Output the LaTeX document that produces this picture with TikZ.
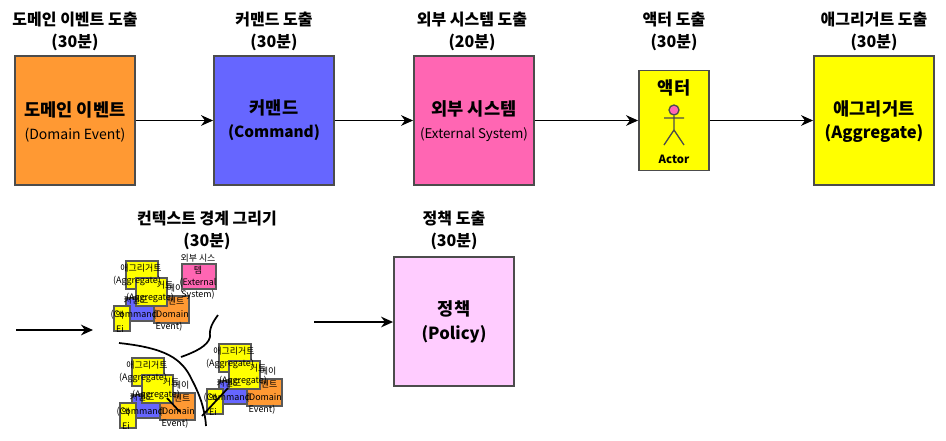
\documentclass[tikz,border=0pt]{standalone}
\usepackage{fontspec}
\setmainfont{Noto Sans CJK KR}
\usetikzlibrary{arrows.meta}
\definecolor{ev}{HTML}{FF9933}
\definecolor{cm}{HTML}{6666FF}
\definecolor{ex}{HTML}{FF66B3}
\definecolor{po}{HTML}{FFCCFF}
\definecolor{yl}{HTML}{FFFF00}
\tikzset{
 x=0.75pt,y=-0.75pt,
 box/.style={draw=black!70,line width=1.4pt,minimum width=#1*0.75pt,inner sep=0pt,align=center},
 title/.style={font=\bfseries\fontsize{12}{16.5}\selectfont,align=center,text=black},
 big/.style={font=\bfseries\fontsize{13.2}{18}\selectfont,align=center},
 biglat/.style={font=\bfseries\fontsize{11.5}{15}\selectfont,align=center},
 sub/.style={font=\fontsize{10.5}{12}\selectfont,align=center},
 flow/.style={draw=black,line width=1.3pt,-{Stealth[length=9pt,width=8pt]}},
 mini/.style={draw=black!65,line width=1.6pt,inner sep=0pt},
 minitext/.style={font=\fontsize{6.7}{8}\selectfont,align=center,inner sep=0pt},
 bound/.style={draw=black,line width=1.3pt}
}
\newcommand{\minirect}[6]{% name,x,y,w,h,colour
 \node[mini,fill=#6,minimum width=#4*0.75pt,minimum height=#5*0.75pt,anchor=north west] (#1) at (#2,#3) {};}
\newcommand{\cluster}[3]{%
 \begin{scope}[shift={(#2,#3)}]
 \minirect{#1c}{125}{297}{28}{23}{cm}
 \minirect{#1y}{113}{305}{16}{25}{yl}
 \minirect{#1o}{153}{295}{35}{27}{ev}
 \minirect{#1a}{125}{260}{32}{28}{yl}
 \minirect{#1b}{135}{277}{31}{28}{yl}
 \node[minitext] (#1at) at (141,268) {애그리거트};
 \node[minitext] (#1as) at (137,281) {(Aggregate)};
 \node[minitext] (#1bs) at (150,298) {(Aggregate)};
 \node[minitext] (#1bk) at (165,285) {거트};
 \node[minitext] (#1ct) at (136,300) {커맨드};
 \node[minitext] (#1cs) at (134,315) {(Command};
 \node[minitext] (#1ot) at (175,288) {메이};
 \node[minitext] (#1ok) at (176,301) {벤트};
 \node[minitext] (#1os) at (171,315) {(Domain};
 \node[minitext] (#1oe) at (169,327) {Event)};
 \node[minitext] (#1yt) at (120,315) {액};
 \node[minitext] (#1ys) at (120,329) {Ei};
 \end{scope}}
\begin{document}
\begin{tikzpicture}
\useasboundingbox (0,0) rectangle (946,440);
% top titles
\node[title] (t1) at (75,31) {도메인 이벤트 도출\\(30분)};
\node[title] (t2) at (274,31) {커맨드 도출\\(30분)};
\node[title] (t3) at (472,31) {외부 시스템 도출\\(20분)};
\node[title] (t4) at (674,31) {액터 도출\\(30분)};
\node[title] (t5) at (874,31) {애그리거트 도출\\(30분)};
\node[title] (t6) at (207,230) {컨텍스트 경계 그리기\\(30분)};
\node[title] (t7) at (454,230) {정책 도출\\(30분)};
% main boxes
\node[box=120,fill=ev,minimum height=129*0.75pt] (event) at (75,120.5) {};
\node[big] (eventk) at (75,110) {도메인 이벤트};
\node[sub] (evente) at (75,135) {(Domain Event)};
\node[box=120,fill=cm,minimum height=129*0.75pt] (command) at (274,120.5) {};
\node[big] (commandk) at (274,108) {커맨드};
\node[biglat] (commande) at (274,133) {(Command)};
\node[box=120,fill=ex,minimum height=129*0.75pt] (external) at (474,120.5) {};
\node[big] (externalk) at (474,109) {외부 시스템};
\node[sub,font=\fontsize{10}{12}\selectfont] (externale) at (474,135) {(External System)};
\node[box=70,fill=yl,minimum height=100*0.75pt] (actor) at (674,120.5) {};
\node[big] (actork) at (674,88) {액터};
\node[circle,draw=black!70,fill=ex,line width=1pt,minimum size=10*0.75pt,inner sep=0pt] (head) at (674,110) {};
\coordinate (hip) at (674,130);
\coordinate (armL) at (664,118);
\coordinate (armR) at (684,118);
\coordinate (footL) at (664,145);
\coordinate (footR) at (684,145);
\draw[black!70,line width=1pt] (head) -- (hip) (armL) -- (armR) (footL) -- (hip) -- (footR);
\node[font=\bfseries\fontsize{8.5}{10}\selectfont] (actore) at (674,159) {Actor};
\node[box=120,fill=yl,minimum height=129*0.75pt] (agg) at (874,120.5) {};
\node[big] (aggk) at (874,109) {애그리거트};
\node[biglat,font=\bfseries\fontsize{12.5}{15}\selectfont] (agge) at (874,133) {(Aggregate)};
\node[box=120,fill=po,minimum height=129*0.75pt] (policy) at (454,321.5) {};
\node[big] (polk) at (454,309) {정책};
\node[biglat,font=\bfseries\fontsize{12.5}{15}\selectfont] (pole) at (454,334) {(Policy)};
\draw[flow] (event) -- (command);
\draw[flow] (command) -- (external);
\draw[flow] (external) -- (actor);
\draw[flow] (actor) -- (agg);
\coordinate (ctxin) at (16,330);
\coordinate (ctxend) at (93,330);
\draw[flow] (ctxin) -- (ctxend);
\coordinate (polin) at (314,322);
\draw[flow] (polin) -- (polin -| policy.west);
% mini clusters
\cluster{p}{0}{0}
\minirect{xx}{181}{263}{34}{25}{ex}
\node[minitext] (xa) at (198,258) {외부 시스};
\node[minitext] (xb) at (198,270) {템};
\node[minitext] (xc) at (198,283) {(External};
\node[minitext] (xd) at (198,295) {System)};
\cluster{q}{6}{97}
\cluster{r}{93}{83}
% context boundaries
\coordinate (b1a) at (119,343);
\coordinate (b1b) at (206,426);
\coordinate (b2a) at (181,357);
\coordinate (b2b) at (218,315);
\draw[bound] (b1a) .. controls (165,348) and (182,358) .. (192,380) .. controls (200,395) and (205,410) .. (b1b);
\draw[bound] (b2a) .. controls (195,352) and (208,346) .. (210,337) .. controls (209,328) and (213,322) .. (b2b);
\coordinate (c1a) at (202,416);
\coordinate (c1b) at (228,388);
\coordinate (c2a) at (167,398);
\coordinate (c2b) at (180,412);
\draw[bound] (c1a) -- (c1b);
\draw[bound] (c2a) -- (c2b);
\end{tikzpicture}
\end{document}
